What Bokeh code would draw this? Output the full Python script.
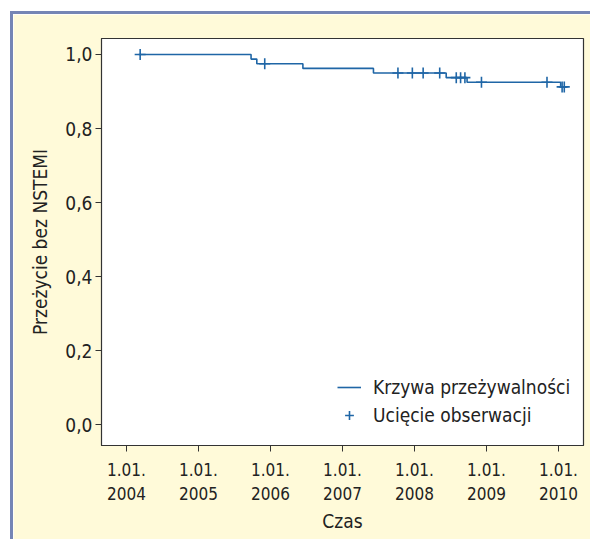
from bokeh.plotting import figure
from bokeh.models import FixedTicker, CustomJSTickFormatter, Legend, LegendItem, Range1d
from bokeh.embed import file_html
from bokeh.resources import INLINE

# Kaplan-Meier curve (decimal years) and survival values
event_times = [2004.17, 2005.73, 2005.81, 2006.45, 2007.43, 2008.44, 2008.73, 2010.03, 2010.11]
survival = [1.0, 0.9875, 0.975, 0.9625, 0.95, 0.9375, 0.925, 0.9125, 0.9125]
# Censored observations
censor_times = [2004.19, 2005.92, 2007.77, 2007.97, 2008.12, 2008.35, 2008.58, 2008.64,
                2008.70, 2008.93, 2009.84, 2010.05, 2010.08]
censor_surv = [1.0, 0.975, 0.95, 0.95, 0.95, 0.95, 0.9375, 0.9375, 0.9375, 0.925, 0.925,
               0.9125, 0.9125]
x_ticks = [2004, 2005, 2006, 2007, 2008, 2009, 2010]
y_ticks = [0.0, 0.2, 0.4, 0.6, 0.8, 1.0]
legend_labels = ["Krzywa przeżywalności", "Ucięcie obserwacji"]
x_title = "Czas"
y_title = "Przeżycie bez NSTEMI"

FONT = "DejaVu Sans Condensed"
BG = "#FFFAD9"
BLUE = "#1F66A6"
DARK = "#333333"

p = figure(width=580, height=528, output_backend="svg", toolbar_location=None,
           x_range=Range1d(2003.653, 2010.347), y_range=Range1d(-0.056, 1.0432),
           min_border_left=88, min_border_right=10, min_border_top=24, min_border_bottom=97)
p.styles = {"border-left": "3px solid #7585B5", "border-top": "3px solid #7585B5",
            "margin-left": "10px", "margin-top": "11px"}
p.background_fill_color = "white"
p.border_fill_color = BG
p.outline_line_color = DARK
p.outline_line_width = 1.2
p.grid.visible = False

for ax in (p.xaxis[0], p.yaxis[0]):
    ax.axis_line_color = DARK
    ax.major_tick_line_color = DARK
    ax.major_tick_out = 6
    ax.major_tick_in = 0
    ax.minor_tick_line_color = None
    ax.major_label_text_font = FONT
    ax.major_label_text_color = "#222222"
    ax.axis_label_text_font = FONT
    ax.axis_label_text_font_style = "normal"
    ax.axis_label_text_color = "#222222"

p.xaxis.ticker = FixedTicker(ticks=x_ticks)
p.xaxis.formatter = CustomJSTickFormatter(code="return '1.01.\\n' + tick.toFixed(0);")
p.xaxis.major_label_text_font_size = "17px"
p.xaxis.major_label_standoff = 8
p.xaxis.axis_label = x_title
p.xaxis.axis_label_text_font_size = "19px"
p.xaxis.axis_label_standoff = 3

p.yaxis.ticker = FixedTicker(ticks=y_ticks)
p.yaxis.formatter = CustomJSTickFormatter(code="return tick.toFixed(1).replace('.', ',');")
p.yaxis.major_label_text_font_size = "19px"
p.yaxis.major_label_standoff = 3
p.yaxis.axis_label = y_title
p.yaxis.axis_label_text_font_size = "19px"
p.yaxis.axis_label_standoff = 11

step_r = p.step(event_times, survival, mode="after", line_color=BLUE, line_width=1.6)
cens_r = p.scatter(censor_times, censor_surv, marker="cross", size=11, line_color=BLUE,
                   line_width=1.6)

legend = Legend(items=[LegendItem(label=legend_labels[0], renderers=[step_r]),
                       LegendItem(label=legend_labels[1], renderers=[cens_r])],
                location=(236, 19), padding=0, margin=0, spacing=6,
                glyph_width=24, glyph_height=22, label_standoff=12,
                label_text_font=FONT, label_text_font_size="19px",
                label_text_color="#222222",
                border_line_color=None, background_fill_alpha=0)
p.add_layout(legend)

open("out.html", "w").write(file_html(p, INLINE))
